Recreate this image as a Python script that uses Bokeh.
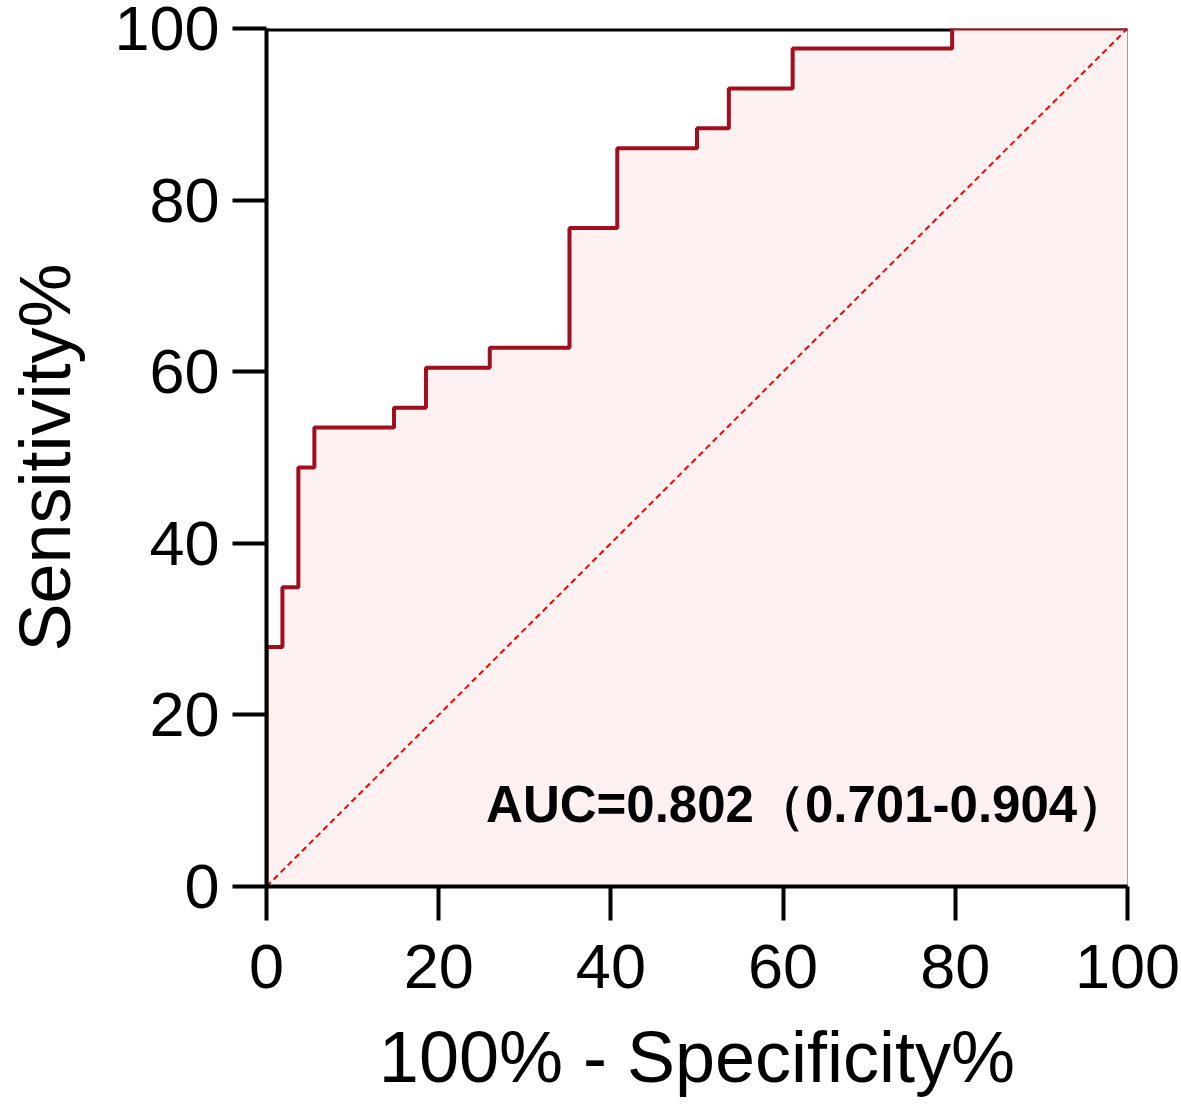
from bokeh.plotting import figure
from bokeh.models import Range1d, FixedTicker, Span
from bokeh.core.properties import value
from bokeh.embed import file_html
from bokeh.resources import INLINE

# ROC curve data (100% - specificity, sensitivity), in percent
fpr = [0, 0, 1.85, 3.70, 5.56, 14.81, 18.52, 25.93, 35.19, 40.74, 50.00, 53.70, 61.11, 79.63, 100]
tpr = [0, 27.91, 34.88, 48.84, 53.49, 55.81, 60.47, 62.79, 76.74, 86.05, 88.37, 93.02, 97.67, 100, 100]
ref_x = [0, 100]
ref_y = [0, 100]
ticks = [0, 20, 40, 60, 80, 100]
auc_label = "AUC=0.802（0.701-0.904）"
auc_pos = (25.5, 9.6)

# step path: horizontal then vertical
path_x = [fpr[0]]
path_y = [tpr[0]]
for i in range(1, len(fpr)):
    path_x += [fpr[i], fpr[i]]
    path_y += [tpr[i - 1], tpr[i]]

FONT = "Liberation Sans"

p = figure(width=1180, height=1108, output_backend="svg", toolbar_location=None,
           x_range=Range1d(0, 100), y_range=Range1d(0, 100),
           min_border_left=266, min_border_right=53, min_border_top=28, min_border_bottom=222)
p.background_fill_color = "white"
p.border_fill_color = "white"
p.outline_line_color = None
p.xgrid.visible = False
p.ygrid.visible = False

# fill under curve
p.patch(path_x + [100, 0], path_y + [0, 0], fill_color="#FDF1F2", line_color=None)

# frame top/right lines
p.add_layout(Span(location=100, dimension="width", line_color="black", line_width=6, level="underlay"))
p.add_layout(Span(location=100, dimension="height", line_color="black", line_width=3, level="underlay"))

# reference diagonal
p.line(ref_x, ref_y, line_color="#FF0000", line_width=2, line_dash="6 4")

# ROC curve
p.line(path_x, path_y, line_color="#A20E1C", line_width=4)

p.text(x=[auc_pos[0]], y=[auc_pos[1]], text=[auc_label],
       text_font=value(FONT),
       text_font_style="bold", text_font_size="51px", text_color="black",
       text_baseline="alphabetic", text_align="left")

for ax, lab in ((p.xaxis, "100% - Specificity%"), (p.yaxis, "Sensitivity%")):
    ax.ticker = FixedTicker(ticks=ticks)
    ax.axis_label = lab
    ax.axis_label_text_font = FONT
    ax.axis_label_text_font_style = "normal"
    ax.axis_label_text_font_size = "72px"
    ax.axis_label_text_color = "black"
    ax.major_label_text_font = FONT
    ax.major_label_text_font_size = "63px"
    ax.major_label_text_color = "black"
    ax.axis_line_width = 4
    ax.axis_line_color = "black"
    ax.major_tick_line_width = 4
    ax.major_tick_line_color = "black"
    ax.major_tick_out = 34
    ax.major_tick_in = 0
    ax.minor_tick_line_color = None

p.xaxis.major_label_standoff = 24
p.xaxis.axis_label_standoff = 26
p.yaxis.major_label_standoff = 13
p.yaxis.axis_label_standoff = 26

open("out.html", "w").write(file_html(p, INLINE))
